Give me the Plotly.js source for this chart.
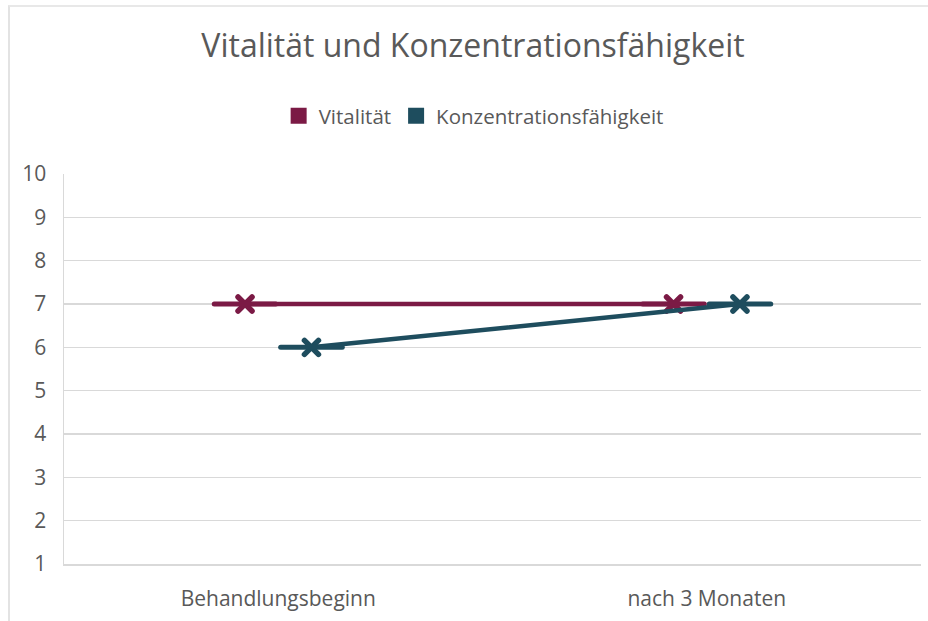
<!DOCTYPE html>
<html>
<head>
<meta charset="utf-8">
<script src="https://cdn.plot.ly/plotly-3.0.1.min.js"></script>
<style>
  html, body { margin: 0; padding: 0; background: #ffffff; }
  #wrap { position: relative; width: 928px; height: 621px; overflow: hidden; }
  #chart { position: absolute; left: 0; top: 0; width: 928px; height: 621px; }
  #frame { position: absolute; left: 8px; top: 5px; width: 940px; height: 640px;
           border-top: 2px solid #e8e8e8; border-left: 2px solid #e3e3e3; pointer-events: none; }
  #chart .scatterlayer path.point, #chart .scatterlayer path.js-line { stroke-linecap: round; stroke-linejoin: round; }
</style>
</head>
<body>
<div id="wrap">
  <div id="chart"></div>
  <div id="frame"></div>
</div>
<script>
// ---- data ----
var categories = ['Behandlungsbeginn', 'nach 3 Monaten'];
var vitalitaet = [7, 7];
var konzentration = [6, 7];
var seriesNames = ['Vitalität', 'Konzentrationsfähigkeit'];
var chartTitle = 'Vitalität und Konzentrationsfähigkeit';
var yTicks = [1, 2, 3, 4, 5, 6, 7, 8, 9, 10];

// ---- style ----
var colV = '#7B1A45';
var colK = '#1E4D5E';
var grey = '#595959';
var font = 'Open Sans, Noto Sans, sans-serif';

function seriesTraces(name, values, color, group) {
  return [
    { // connecting line + X markers
      type: 'scatter', mode: 'lines+markers', x: categories, y: values, name: name,
      offsetgroup: group, showlegend: false, hoverinfo: 'skip',
      line: { color: color, width: 4.5 },
      marker: { symbol: 'x-thin', size: 14, color: color, line: { color: color, width: 5.5 } }
    },
    { // horizontal dash at each point
      type: 'scatter', mode: 'markers', x: categories, y: values, name: name,
      offsetgroup: group, showlegend: false, hoverinfo: 'skip',
      marker: { symbol: 'line-ew', size: 44, color: color, line: { color: color, width: 5 } }
    },
    { // legend entry
      type: 'scatter', mode: 'markers', x: [null], y: [null], name: name,
      offsetgroup: group, showlegend: true,
      marker: { symbol: 'square', size: 16, color: color }
    }
  ];
}

var data = [].concat(
  seriesTraces(seriesNames[0], vitalitaet, colV, 'v'),
  seriesTraces(seriesNames[1], konzentration, colK, 'k')
);

var layout = {
  width: 928, height: 621,
  margin: { l: 64, r: 7, t: 174, b: 57, pad: 0 },
  paper_bgcolor: '#ffffff', plot_bgcolor: '#ffffff',
  font: { family: font, color: grey, size: 21 },
  scattermode: 'group',
  scattergap: 0.69,
  title: {
    text: chartTitle,
    font: { family: font, size: 32, color: grey },
    xref: 'container', yref: 'container',
    x: 473 / 928, xanchor: 'center',
    y: 1 - 46 / 621, yanchor: 'middle'
  },
  legend: {
    orientation: 'h',
    x: 0.478, xanchor: 'center',
    y: 1.149, yanchor: 'middle',
    font: { family: font, size: 20.5, color: grey },
    traceorder: 'normal'
  },
  xaxis: {
    type: 'category',
    range: [-0.5, 1.5],
    showgrid: false,
    showline: true,
    linecolor: '#d9d9d9',
    linewidth: 1.5,
    zeroline: false,
    ticks: '',
    ticklabelstandoff: 15,
    tickfont: { family: font, size: 21, color: grey },
    fixedrange: true
  },
  yaxis: {
    range: [1, 10],
    tickvals: yTicks,
    ticktext: yTicks.map(String),
    showgrid: true,
    gridcolor: '#d9d9d9',
    gridwidth: 1.5,
    showline: true,
    linecolor: '#d9d9d9',
    linewidth: 1.5,
    zeroline: false,
    ticks: '',
    ticklabelstandoff: 12,
    tickfont: { family: font, size: 21, color: grey },
    fixedrange: true
  },
  showlegend: true
};

Plotly.newPlot('chart', data, layout, { displayModeBar: false, staticPlot: true });
</script>
</body>
</html>
